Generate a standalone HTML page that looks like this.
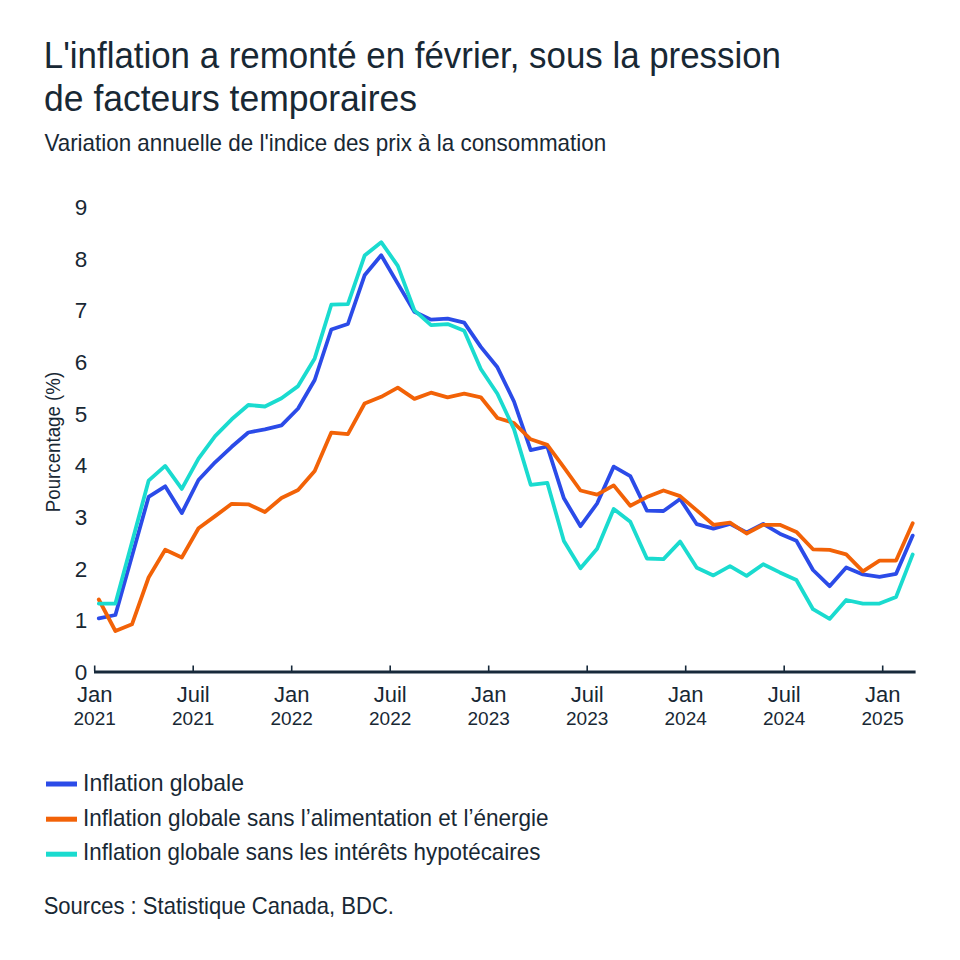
<!DOCTYPE html>
<html><head><meta charset="utf-8"><title>Inflation</title>
<style>
html,body{margin:0;padding:0;background:#fff;width:960px;height:960px;overflow:hidden}
svg{display:block}
text{font-family:"Liberation Sans",Arial,sans-serif;fill:#182834}
</style></head><body>
<svg width="960" height="960" viewBox="0 0 960 960">
<rect width="960" height="960" fill="#fff"/>
<text x="43.8" y="68" font-size="36" textLength="737.18" lengthAdjust="spacingAndGlyphs">L'inflation a remonté en février, sous la pression</text>
<text x="44.03" y="111" font-size="36" textLength="373.04" lengthAdjust="spacingAndGlyphs">de facteurs temporaires</text>
<text x="44.4" y="151.3" font-size="23.2" textLength="561.75" lengthAdjust="spacingAndGlyphs">Variation annuelle de l'indice des prix à la consommation</text>
<g font-size="22.5"><text x="87.3" y="679.9" text-anchor="end">0</text><text x="87.3" y="628.3" text-anchor="end">1</text><text x="87.3" y="576.6" text-anchor="end">2</text><text x="87.3" y="525.0" text-anchor="end">3</text><text x="87.3" y="473.3" text-anchor="end">4</text><text x="87.3" y="421.7" text-anchor="end">5</text><text x="87.3" y="370.0" text-anchor="end">6</text><text x="87.3" y="318.4" text-anchor="end">7</text><text x="87.3" y="266.7" text-anchor="end">8</text><text x="87.3" y="215.1" text-anchor="end">9</text></g>
<text transform="translate(60,442.05) rotate(-90)" text-anchor="middle" font-size="20" textLength="140.4" lengthAdjust="spacingAndGlyphs">Pourcentage (%)</text>
<g><text x="94.7" y="702" text-anchor="middle" font-size="22">Jan</text><text x="94.7" y="725.3" text-anchor="middle" font-size="19">2021</text><text x="193.2" y="702" text-anchor="middle" font-size="22">Juil</text><text x="193.2" y="725.3" text-anchor="middle" font-size="19">2021</text><text x="291.7" y="702" text-anchor="middle" font-size="22">Jan</text><text x="291.7" y="725.3" text-anchor="middle" font-size="19">2022</text><text x="390.2" y="702" text-anchor="middle" font-size="22">Juil</text><text x="390.2" y="725.3" text-anchor="middle" font-size="19">2022</text><text x="488.7" y="702" text-anchor="middle" font-size="22">Jan</text><text x="488.7" y="725.3" text-anchor="middle" font-size="19">2023</text><text x="587.2" y="702" text-anchor="middle" font-size="22">Juil</text><text x="587.2" y="725.3" text-anchor="middle" font-size="19">2023</text><text x="685.7" y="702" text-anchor="middle" font-size="22">Jan</text><text x="685.7" y="725.3" text-anchor="middle" font-size="19">2024</text><text x="784.2" y="702" text-anchor="middle" font-size="22">Juil</text><text x="784.2" y="725.3" text-anchor="middle" font-size="19">2024</text><text x="882.7" y="702" text-anchor="middle" font-size="22">Jan</text><text x="882.7" y="725.3" text-anchor="middle" font-size="19">2025</text></g>
<g stroke="#17293a" stroke-width="1.6"><line x1="94.7" y1="665.5" x2="94.7" y2="671" /><line x1="193.2" y1="665.5" x2="193.2" y2="671" /><line x1="291.7" y1="665.5" x2="291.7" y2="671" /><line x1="390.2" y1="665.5" x2="390.2" y2="671" /><line x1="488.7" y1="665.5" x2="488.7" y2="671" /><line x1="587.2" y1="665.5" x2="587.2" y2="671" /><line x1="685.7" y1="665.5" x2="685.7" y2="671" /><line x1="784.2" y1="665.5" x2="784.2" y2="671" /><line x1="882.7" y1="665.5" x2="882.7" y2="671" /></g>
<line x1="94" y1="672" x2="915.6" y2="672" stroke="#17293a" stroke-width="3"/>
<g fill="none" stroke-width="3.8" stroke-linejoin="round" stroke-linecap="round">
<polyline stroke="#2b4be8" points="98.8,618.3 115.4,615.0 132.0,556.0 148.6,496.9 165.2,486.3 181.8,513.1 198.5,480.0 215.1,462.3 231.7,446.8 248.3,432.5 264.9,429.3 281.5,425.3 298.1,408.5 314.7,380.0 331.3,329.5 347.9,324.0 364.6,275.3 381.2,255.3 397.8,283.6 414.4,311.7 431.0,319.6 447.6,318.7 464.2,322.6 480.8,346.9 497.4,367.3 514.0,401.5 530.7,450.2 547.3,446.5 563.9,498.3 580.5,526.2 597.1,503.5 613.7,466.6 630.3,476.2 646.9,510.6 663.5,511.0 680.1,499.0 696.8,524.2 713.4,528.6 730.0,523.9 746.6,532.5 763.2,523.9 779.8,533.7 796.4,540.7 813.0,570.0 829.6,586.2 846.2,567.5 862.9,574.4 879.5,576.9 896.1,573.8 912.7,535.6"/>
<polyline stroke="#f26207" points="98.8,599.5 115.4,631.0 132.0,624.3 148.6,577.5 165.2,549.8 181.8,557.5 198.5,528.3 215.1,516.1 231.7,503.8 248.3,504.3 264.9,512.0 281.5,498.0 298.1,490.0 314.7,471.0 331.3,432.6 347.9,434.2 364.6,403.5 381.2,396.8 397.8,387.6 414.4,398.9 431.0,392.7 447.6,397.3 464.2,393.7 480.8,397.3 497.4,418.0 514.0,423.0 530.7,439.3 547.3,444.9 563.9,467.4 580.5,490.5 597.1,494.6 613.7,485.4 630.3,505.8 646.9,497.1 663.5,490.5 680.1,496.1 696.8,510.4 713.4,524.8 730.0,522.7 746.6,533.5 763.2,524.8 779.8,524.8 796.4,531.9 813.0,549.3 829.6,549.8 846.2,554.4 862.9,571.3 879.5,560.6 896.1,560.6 912.7,523.2"/>
<polyline stroke="#1adbcf" points="98.8,603.6 115.4,603.6 132.0,542.2 148.6,480.7 165.2,465.9 181.8,488.9 198.5,458.7 215.1,436.2 231.7,419.3 248.3,405.0 264.9,406.5 281.5,398.3 298.1,386.1 314.7,358.4 331.3,304.7 347.9,304.2 364.6,255.6 381.2,242.2 397.8,265.8 414.4,310.3 431.0,325.2 447.6,324.1 464.2,330.8 480.8,369.0 497.4,393.8 514.0,429.1 530.7,484.8 547.3,482.8 563.9,541.1 580.5,568.3 597.1,548.8 613.7,508.9 630.3,521.7 646.9,558.5 663.5,559.1 680.1,541.6 696.8,567.8 713.4,575.4 730.0,566.2 746.6,575.9 763.2,564.2 779.8,572.4 796.4,580.0 813.0,609.2 829.6,618.9 846.2,600.0 862.9,603.6 879.5,603.6 896.1,596.9 912.7,554.4"/>
</g>
<g>
<rect x="46" y="781.5" width="31" height="5" fill="#2b4be8"/>
<rect x="46" y="816.7" width="31" height="5" fill="#f26207"/>
<rect x="46" y="851.7" width="31" height="5" fill="#1adbcf"/>
<text x="83.02" y="790.5" font-size="23.2" textLength="160.91" lengthAdjust="spacingAndGlyphs">Inflation globale</text>
<text x="83.06" y="825.5" font-size="23.2" textLength="465.41" lengthAdjust="spacingAndGlyphs">Inflation globale sans l’alimentation et l’énergie</text>
<text x="83.07" y="860.4" font-size="23.2" textLength="457.26" lengthAdjust="spacingAndGlyphs">Inflation globale sans les intérêts hypotécaires</text>
<text x="43.65" y="913.6" font-size="23.2" textLength="350.29" lengthAdjust="spacingAndGlyphs">Sources : Statistique Canada, BDC.</text>
</g>
</svg>
</body></html>
